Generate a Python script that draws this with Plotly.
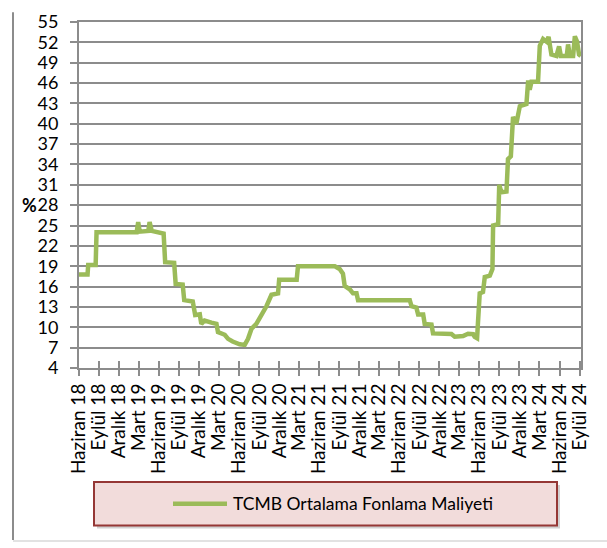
import pandas as pd
import plotly.graph_objects as go

# TCMB ortalama fonlama maliyeti (%)
dates = [
    "2018-06-01", "2018-07-10", "2018-07-13", "2018-08-16", "2018-08-20",
    "2019-02-19", "2019-02-26", "2019-03-05", "2019-04-13", "2019-04-19",
    "2019-04-29", "2019-05-26", "2019-06-22", "2019-06-29", "2019-08-09",
    "2019-08-16", "2019-09-17", "2019-09-24", "2019-11-02", "2019-11-13",
    "2019-12-04", "2019-12-11", "2019-12-26", "2020-01-26", "2020-02-18",
    "2020-02-25", "2020-03-27", "2020-04-11", "2020-05-02", "2020-06-03",
    "2020-06-26", "2020-07-11", "2020-07-27", "2020-08-18", "2020-09-10",
    "2020-10-03", "2020-10-26", "2020-11-25", "2020-11-30", "2021-02-18",
    "2021-02-24", "2021-08-11", "2021-09-02", "2021-09-17", "2021-09-25",
    "2021-10-18", "2021-11-02", "2021-11-18", "2021-11-25", "2022-07-19",
    "2022-07-27", "2022-08-18", "2022-08-26", "2022-09-18", "2022-09-25",
    "2022-10-26", "2022-11-02", "2023-01-25", "2023-02-09", "2023-03-19",
    "2023-04-11", "2023-05-04", "2023-05-11", "2023-05-22", "2023-05-26",
    "2023-06-03", "2023-06-18", "2023-06-26", "2023-07-19", "2023-07-31",
    "2023-08-03", "2023-08-26", "2023-08-31", "2023-09-10", "2023-10-03",
    "2023-10-10", "2023-10-23", "2023-11-02", "2023-11-17", "2023-12-03",
    "2024-01-02", "2024-01-10", "2024-01-17", "2024-01-25", "2024-02-24",
    "2024-03-03", "2024-03-18", "2024-04-03", "2024-04-12", "2024-04-25",
    "2024-05-18", "2024-05-30", "2024-06-07", "2024-07-04", "2024-07-10",
    "2024-07-18", "2024-08-02", "2024-08-10", "2024-08-20", "2024-08-29",
    "2024-09-06",
]
rates = [
    17.8, 17.8, 19.2, 19.2, 24.0,
    24.0, 25.5, 24.1, 24.2, 25.5,
    24.2, 24.0, 23.8, 19.6, 19.5,
    16.4, 16.3, 14.0, 13.8, 11.8,
    11.9, 10.5, 11.0, 10.7, 10.5,
    9.3, 8.9, 8.3, 7.9, 7.5,
    7.4, 8.3, 9.8, 10.5, 11.7,
    13.1, 14.8, 15.0, 17.0, 17.0,
    19.0, 19.0, 18.6, 17.9, 16.1,
    15.6, 15.0, 15.0, 14.0, 14.0,
    13.1, 12.9, 11.9, 11.9, 10.5,
    10.4, 9.1, 9.0, 8.6, 8.7,
    9.05, 9.0, 8.6, 8.4, 10.7,
    15.0, 15.2, 17.4, 17.6, 18.6,
    25.0, 25.2, 31.0, 29.9, 30.0,
    34.8, 35.2, 41.0, 40.0, 42.6,
    42.9, 46.4, 45.0, 46.2, 46.2,
    51.5, 52.5, 52.1, 52.8, 50.2,
    50.0, 51.4, 50.0, 50.0, 51.7,
    50.0, 50.0, 52.9, 52.1, 50.2,
    50.0,
]

tick_labels = [
    "Haziran 18", "Eylül 18", "Aralık 18", "Mart 19",
    "Haziran 19", "Eylül 19", "Aralık 19", "Mart 20",
    "Haziran 20", "Eylül 20", "Aralık 20", "Mart 21",
    "Haziran 21", "Eylül 21", "Aralık 21", "Mart 22",
    "Haziran 22", "Eylül 22", "Aralık 22", "Mart 23",
    "Haziran 23", "Eylül 23", "Aralık 23", "Mart 24",
    "Haziran 24", "Eylül 24",
]
tick_dates = pd.date_range("2018-06-01", periods=len(tick_labels), freq="3MS")

series_name = "TCMB Ortalama Fonlama Maliyeti"
GREEN = "#9BBB59"
GRID = "#8c8c8c"
FONT = "Lato"

fig = go.Figure()
fig.add_trace(go.Scatter(
    x=pd.to_datetime(dates), y=rates, name=series_name,
    mode="lines", line=dict(color=GREEN, width=4.5),
))

# second axis on top of x just to get ticks crossing the axis line
fig.add_trace(go.Scatter(x=[tick_dates[0]], y=[None], xaxis="x2",
                         showlegend=False, hoverinfo="skip"))

fig.update_layout(
    width=607, height=548,
    margin=dict(l=79, r=26, t=10, b=180),
    paper_bgcolor="white", plot_bgcolor="white",
    font=dict(family=FONT, size=19, color="black"),
    showlegend=False,
    xaxis=dict(
        type="date", range=["2018-06-01", "2024-09-07"],
        tickvals=tick_dates, ticktext=tick_labels, tickangle=-90,
        ticks="outside", ticklen=6, tickwidth=1.5, tickcolor=GRID,
        ticklabeloverflow="allow",
        showgrid=False, showline=True, linecolor=GRID, linewidth=2,
        mirror=True, zeroline=False,
    ),
    xaxis2=dict(
        type="date", overlaying="x", matches="x", anchor="y", side="bottom",
        tickvals=tick_dates, showticklabels=False,
        ticks="inside", ticklen=7, tickwidth=1.5, tickcolor=GRID,
        showgrid=False, showline=False, zeroline=False,
    ),
    yaxis=dict(
        range=[4, 55], tick0=4, dtick=3,
        ticks="outside", ticklen=7, tickwidth=1.5, tickcolor=GRID,
        ticklabelstandoff=8, ticklabeloverflow="allow",
        tickfont=dict(size=18),
        showgrid=True, gridcolor=GRID, gridwidth=1.5,
        showline=True, linecolor=GRID, linewidth=2, mirror=True,
        zeroline=False,
    ),
)

# axis title "%" sitting beside the 28 label
fig.add_annotation(
    text="<b>%</b>", x=-0.08, xref="paper", y=28, yref="y",
    xanchor="right", yanchor="middle", showarrow=False,
    font=dict(family=FONT, size=18),
)

# legend box drawn by hand: shadow, box, key line, text
# helpers take pixels (plot area spans 79..581 x 10..368)
def px_x(v):
    return (v - 79) / 502

def px_y(v):
    return (368 - v) / 358

fig.add_shape(type="rect", xref="paper", yref="paper",
              x0=px_x(97), x1=px_x(560), y0=px_y(534), y1=px_y(489),
              fillcolor="rgba(0,0,0,0.18)", line=dict(width=0), layer="below")
fig.add_shape(type="rect", xref="paper", yref="paper",
              x0=px_x(94), x1=px_x(557), y0=px_y(531), y1=px_y(486),
              fillcolor="#F2DCDB", line=dict(color="#953735", width=2))
fig.add_shape(type="line", xref="paper", yref="paper",
              x0=px_x(173), x1=px_x(227), y0=px_y(508.5), y1=px_y(508.5),
              line=dict(color=GREEN, width=4.5))
fig.add_annotation(
    text=series_name, xref="paper", yref="paper",
    x=px_x(231), y=px_y(508.5), xanchor="left", yanchor="middle",
    showarrow=False, font=dict(family=FONT, size=17.5),
)

# outer chart frame (left and bottom edges)
fig.add_shape(type="line", xref="paper", yref="paper",
              x0=px_x(13), x1=px_x(13), y0=px_y(546), y1=px_y(0),
              line=dict(color="#8c8c8c", width=2))
fig.add_shape(type="line", xref="paper", yref="paper",
              x0=px_x(13), x1=px_x(607), y0=px_y(547), y1=px_y(547),
              line=dict(color="#d9d9d9", width=1.5))

# drop the default 8px body margin so the figure sits at the window corner
fig.write_html("out.html", config={"displayModeBar": False},
               post_script="document.body.style.margin='0';")
